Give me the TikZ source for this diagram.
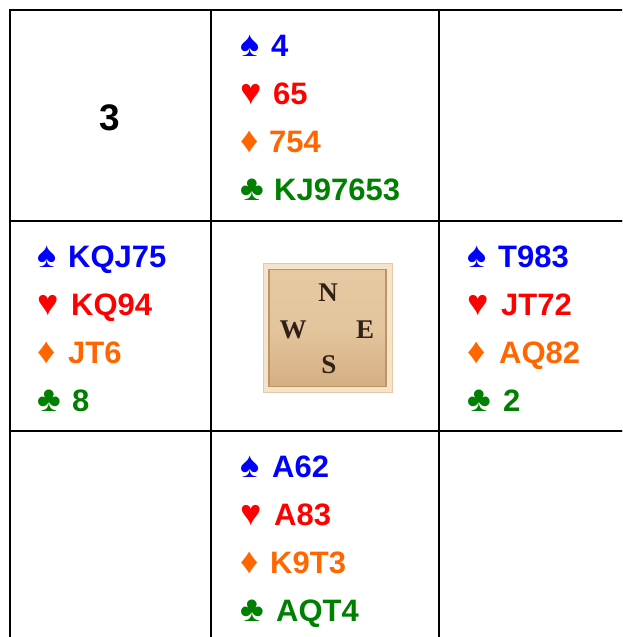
\documentclass[tikz,border=0pt]{standalone}
\usepackage{fontspec}
\setmainfont{Liberation Sans}
\newfontfamily\compassfont{Liberation Serif}
\usetikzlibrary{shadings}

\definecolor{spadeblue}{RGB}{0,0,255}
\definecolor{heartred}{RGB}{255,0,0}
\definecolor{diamondorange}{RGB}{255,102,0}
\definecolor{clubgreen}{RGB}{0,128,0}
\definecolor{woodpale}{RGB}{244,228,204}
\definecolor{woodlight}{RGB}{230,201,162}
\definecolor{wooddark}{RGB}{212,175,130}
\definecolor{woodedge}{RGB}{188,148,102}
\definecolor{inkbrown}{RGB}{48,32,24}

\tikzset{
  cell/.style={draw=black, line width=2pt, inner sep=0pt},
  holding/.style={anchor=base west, inner sep=0pt,
    font=\bfseries\fontsize{31}{31}\selectfont},
  suit/.style={anchor=base west, inner sep=0pt,
    font=\bfseries\fontsize{36}{36}\selectfont},
  spades/.style={text=spadeblue},
  hearts/.style={text=heartred},
  diamonds/.style={text=diamondorange},
  clubs/.style={text=clubgreen},
  compassletter/.style={inner sep=0pt, text=inkbrown,
    font=\compassfont\bfseries\fontsize{27}{27}\selectfont},
}

\begin{document}
\begin{tikzpicture}[x=1pt,y=-1pt]
\useasboundingbox (0,0) rectangle (622,637);
\clip (0,0) rectangle (622,637);
\fill[white] (0,0) rectangle (622,637);

% the 3x3 table
\node[cell, minimum width=201pt, minimum height=211pt] (nw) at (110.5,115.5) {};
\node[cell, minimum width=228pt, minimum height=211pt] (n)  at (325,115.5) {};
\node[cell, minimum width=201pt, minimum height=211pt] (ne) at (539.5,115.5) {};
\node[cell, minimum width=201pt, minimum height=210pt] (w)  at (110.5,326) {};
\node[cell, minimum width=228pt, minimum height=210pt] (c)  at (325,326) {};
\node[cell, minimum width=201pt, minimum height=210pt] (e)  at (539.5,326) {};
\node[cell, minimum width=201pt, minimum height=210pt] (sw) at (110.5,536) {};
\node[cell, minimum width=228pt, minimum height=210pt] (s)  at (325,536) {};
\node[cell, minimum width=201pt, minimum height=210pt] (se) at (539.5,536) {};

% board number
\node[inner sep=0pt, font=\bfseries\fontsize{37}{37}\selectfont] (board) at (109.5,118) {3};

% North
\node[suit, spades]      (n-sps) at (240,56)  {♠};
\node[holding, spades]   (n-sp)  at (271,56)  {4};
\node[suit, hearts]      (n-hes) at (240,104) {♥};
\node[holding, hearts]   (n-he)  at (273,104) {65};
\node[suit, diamonds]    (n-dis) at (240,152) {♦};
\node[holding, diamonds] (n-di)  at (269,152) {754};
\node[suit, clubs]       (n-cls) at (240,200) {♣};
\node[holding, clubs]    (n-cl)  at (274,200) {KJ97653};

% West
\node[suit, spades]      (w-sps) at (37,267) {♠};
\node[holding, spades]   (w-sp)  at (68,267) {KQJ75};
\node[suit, hearts]      (w-hes) at (37,315) {♥};
\node[holding, hearts]   (w-he)  at (71,315) {KQ94};
\node[suit, diamonds]    (w-dis) at (37,363) {♦};
\node[holding, diamonds] (w-di)  at (68,363) {JT6};
\node[suit, clubs]       (w-cls) at (37,411) {♣};
\node[holding, clubs]    (w-cl)  at (72,411) {8};

% East
\node[suit, spades]      (e-sps) at (467,267) {♠};
\node[holding, spades]   (e-sp)  at (498,267) {T983};
\node[suit, hearts]      (e-hes) at (467,315) {♥};
\node[holding, hearts]   (e-he)  at (501,315) {JT72};
\node[suit, diamonds]    (e-dis) at (467,363) {♦};
\node[holding, diamonds] (e-di)  at (499,363) {AQ82};
\node[suit, clubs]       (e-cls) at (467,411) {♣};
\node[holding, clubs]    (e-cl)  at (503,411) {2};

% South
\node[suit, spades]      (s-sps) at (240,477) {♠};
\node[holding, spades]   (s-sp)  at (272,477) {A62};
\node[suit, hearts]      (s-hes) at (240,525) {♥};
\node[holding, hearts]   (s-he)  at (274,525) {A83};
\node[suit, diamonds]    (s-dis) at (240,573) {♦};
\node[holding, diamonds] (s-di)  at (270,573) {K9T3};
\node[suit, clubs]       (s-cls) at (240,621) {♣};
\node[holding, clubs]    (s-cl)  at (276,621) {AQT4};

% wooden compass tile
\node[inner sep=0pt, minimum size=129pt, fill=woodpale, draw=woodlight, line width=1pt]
  (tile) at (327.5,328) {};
\node[inner sep=0pt, minimum size=117pt, draw=woodedge, line width=1.2pt,
  top color=woodlight, bottom color=wooddark, middle color=woodlight!85!wooddark]
  (tileface) at (tile.center) {};
\node[compassletter] (cN) at (328,293) {N};
\node[compassletter] (cW) at (293,330) {W};
\node[compassletter] (cE) at (365,330) {E};
\node[compassletter] (cS) at (329,365) {S};
\end{tikzpicture}
\end{document}
